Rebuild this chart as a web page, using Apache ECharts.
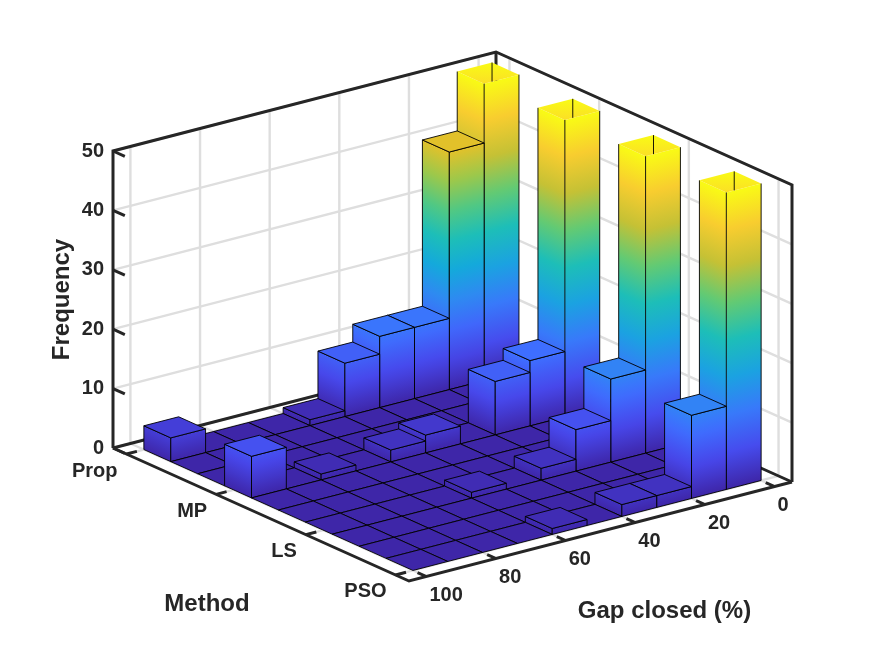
<!DOCTYPE html>
<html>
<head>
<meta charset="utf-8">
<script src="https://cdn.jsdelivr.net/npm/echarts@6/dist/echarts.min.js"></script>
</head>
<body style="margin:0;background:#fff">
<div id="main" style="width:875px;height:656px;"></div>
<script>
// ---- data ----
var methods = ['Prop', 'MP', 'LS', 'PSO'];
var methodRow = [0, 3, 6, 9];            // hist3 row that holds each method
var gapTicks = [0, 20, 40, 60, 80, 100];
var freqTicks = [0, 10, 20, 30, 40, 50];
// frequency per gap-closed bin: 0-10, 10-20, ..., 90-100
// first bin runs past the top of the axes (>50), its real height is a guess
var propFreq = [72, 40, 12, 12, 9, 1, 0, 0, 0, 4];
var mpFreq   = [117, 11, 9, 0, 3, 2, 0, 1, 0, 7];
var lsFreq   = [126, 14, 7, 2, 0, 1, 0, 0, 0, 0];
var psoFreq  = [131, 14, 2, 2, 0, 1, 0, 0, 0, 0];
var methodFreq = [propFreq, mpFreq, lsFreq, psoFreq];
var zMax = 50;

// ---- 3d box -> plane (orthographic, fitted to the figure) ----
var vLim = [-0.5, 10.5];   // method direction, in hist3 rows
var uLim = [105, -5];      // gap closed direction
var view = { ox: 113, oy: 448, mx: 296, my: 133, gx: 383, gy: -99, zy: -297 };

function project(v, u, z) {
    var s = (v - vLim[0]) / (vLim[1] - vLim[0]);
    var t = (u - uLim[0]) / (uLim[1] - uLim[0]);
    var h = z / zMax;
    return [view.ox + s * view.mx + t * view.gx, view.oy + s * view.my + t * view.gy + h * view.zy];
}
function methodV(i) { return i * 10 / 3; }

// parula
var parulaStops = [[62,38,168],[71,71,235],[62,111,255],[39,150,235],[8,181,208],
                   [49,198,159],[129,204,89],[220,189,41],[252,207,48],[249,251,21]];
function parula(x) {
    x = Math.max(0, Math.min(1, x));
    var p = x * (parulaStops.length - 1), i = Math.min(Math.floor(p), parulaStops.length - 2), f = p - i;
    var a = parulaStops[i], b = parulaStops[i + 1];
    return 'rgb(' + [0, 1, 2].map(function (k) { return Math.round(a[k] + (b[k] - a[k]) * f); }).join(',') + ')';
}

// colour along z on a vertical face; p0 bottom corner, p1 next bottom corner, pUp p0 raised to h
function faceFill(p0, p1, pUp, h) {
    var ex = p1[0] - p0[0], ey = p1[1] - p0[1], len = Math.sqrt(ex * ex + ey * ey);
    var nx = -ey / len, ny = ex / len;
    var k = nx * (pUp[0] - p0[0]) + ny * (pUp[1] - p0[1]);
    var stops = [];
    for (var i = 0; i <= 8; i++) stops.push({ offset: i / 8, color: parula(i / 8 * h / zMax) });
    return { type: 'linear', x: p0[0], y: p0[1], x2: p0[0] + nx * k, y2: p0[1] + ny * k, colorStops: stops, global: true };
}

var edge = '#000';
function poly(pts, fill, stroke) {
    return { type: 'polygon', shape: { points: pts },
             style: { fill: fill, stroke: stroke ? edge : null, lineWidth: 0.9 } };
}
function pline(pts, color, w) {
    return { type: 'polyline', shape: { points: pts }, style: { fill: null, stroke: color, lineWidth: w } };
}

// ---- cells, far to near ----
var cells = [];
for (var r = 0; r < 10; r++) {
    var mi = methodRow.indexOf(r);
    for (var c = 0; c < 10; c++) {
        cells.push([r, c, mi >= 0 ? methodFreq[mi][c] : 0]);
    }
}
cells.sort(function (a, b) { return (a[0] + a[1]) - (b[0] + b[1]); });

function renderCell(params, api) {
    var r = api.value(0), c = api.value(1), f = api.value(2);
    var v0 = r, v1 = r + 1, u0 = c * 10, u1 = u0 + 10;
    var h = Math.min(f, zMax), cut = f > zMax;
    function P(v, u, z) { return api.coord(project(v, u, z)); }
    var kids = [];
    if (h === 0) {
        kids.push(poly([P(v0, u1, 0), P(v1, u1, 0), P(v1, u0, 0), P(v0, u0, 0)], parula(0), true));
        return { type: 'group', children: kids };
    }
    var left = [P(v0, u1, 0), P(v1, u1, 0), P(v1, u1, h), P(v0, u1, h)];
    var right = [P(v1, u1, 0), P(v1, u0, 0), P(v1, u0, h), P(v1, u1, h)];
    kids.push(poly(left, faceFill(left[0], left[1], left[3], h), !cut));
    kids.push(poly(right, faceFill(right[0], right[1], right[3], h), !cut));
    var top = [P(v0, u1, h), P(v1, u1, h), P(v1, u0, h), P(v0, u0, h)];
    if (!cut) {
        kids.push(poly(top, parula(h / zMax), true));
    } else {
        var back = top[3], front = top[1];
        kids.push(poly(top, { type: 'linear', x: 0, y: back[1], x2: 0, y2: front[1], global: true,
            colorStops: [{ offset: 0, color: parula(1) }, { offset: 1, color: parula(0.93) }] }, false));
        // inner back corner seen through the open top, down to the front rim
        var rim = back[0] >= front[0] ? top[2] : top[0];
        var t = (back[0] - front[0]) / (rim[0] - front[0]);
        var yHit = front[1] + t * (rim[1] - front[1]);
        kids.push(pline([back, [back[0], yHit]], edge, 0.9));
        kids.push(pline([left[3], left[0], left[1], left[2]], edge, 0.9));
        kids.push(pline([right[1], right[2]], edge, 0.9));
        kids.push(pline([right[0], right[1]], edge, 0.9));
    }
    return { type: 'group', children: kids };
}

var ink = '#262626';
var gridGray = '#dedede';
var tickFont = 'bold 20px "Liberation Sans", Arial, sans-serif';
var titleFont = 'bold 24px "Liberation Sans", Arial, sans-serif';

function renderBack(params, api) {
    function P(v, u, z) { return api.coord(project(v, u, z)); }
    var kids = [], vA = vLim[0], vB = vLim[1], uA = uLim[0], uB = uLim[1];
    gapTicks.forEach(function (u) {
        kids.push(pline([P(vA, u, 0), P(vA, u, zMax)], gridGray, 2.4));
        kids.push(pline([P(vA, u, 0), P(vB, u, 0)], gridGray, 2.4));
    });
    methods.forEach(function (m, i) {
        var v = methodV(i);
        kids.push(pline([P(v, uB, 0), P(v, uB, zMax)], gridGray, 2.4));
        kids.push(pline([P(v, uA, 0), P(v, uB, 0)], gridGray, 2.4));
    });
    freqTicks.forEach(function (z) {
        kids.push(pline([P(vA, uA, z), P(vA, uB, z), P(vB, uB, z)], gridGray, 2.4));
    });
    // back edges of the box
    kids.push(pline([P(vA, uA, 0), P(vA, uA, zMax), P(vA, uB, zMax), P(vB, uB, zMax), P(vB, uB, 0)], ink, 3));
    kids.push(pline([P(vA, uA, 0), P(vA, uB, 0), P(vB, uB, 0)], ink, 3));
    kids.push(pline([P(vA, uB, 0), P(vA, uB, zMax)], ink, 3));
    return { type: 'group', children: kids };
}

function txt(p, s, font, align, vAlign, rot) {
    return { type: 'text', x: p[0], y: p[1], rotation: rot || 0,
             style: { text: s, font: font, fill: ink, align: align, verticalAlign: vAlign } };
}

function renderFront(params, api) {
    function P(v, u, z) { return api.coord(project(v, u, z)); }
    var kids = [], vA = vLim[0], vB = vLim[1], uA = uLim[0], uB = uLim[1];
    kids.push(pline([P(vA, uA, 0), P(vB, uA, 0), P(vB, uB, 0)], ink, 3));
    freqTicks.forEach(function (z) {
        var p = P(vA, uA, z);
        kids.push(pline([p, P(vA + 0.44, uA, z)], ink, 3));
        kids.push(txt([p[0] - 9, p[1]], String(z), tickFont, 'right', 'middle'));
    });
    methods.forEach(function (m, i) {
        var p = P(methodV(i), uA, 0);
        kids.push(pline([p, P(methodV(i), uA - 3, 0)], ink, 3));
        kids.push(txt([p[0] - 9, p[1] + 17], m, tickFont, 'right', 'middle'));
    });
    gapTicks.forEach(function (u) {
        var p = P(vB, u, 0);
        kids.push(pline([p, P(vB - 0.33, u, 0)], ink, 3));
        kids.push(txt([p[0] + 3, p[1] + 19], String(u), tickFont, 'left', 'middle'));
    });
    var zMid = P(vA, uA, zMax / 2), mMid = P((vA + vB) / 2, uA, 0), gMid = P(vB, (uA + uB) / 2, 0);
    kids.push(txt([zMid[0] - 51, zMid[1]], 'Frequency', titleFont, 'center', 'middle', Math.PI / 2));
    kids.push(txt([mMid[0] - 54, mMid[1] + 90], 'Method', titleFont, 'center', 'middle'));
    kids.push(txt([gMid[0] + 64, gMid[1] + 80], 'Gap closed (%)', titleFont, 'center', 'middle'));
    return { type: 'group', children: kids };
}

var myChart = echarts.init(document.getElementById('main'));
myChart.setOption({
    animation: false,
    grid: { left: 0, right: 0, top: 0, bottom: 0 },
    xAxis: { type: 'value', min: 0, max: 875, show: false },
    yAxis: { type: 'value', min: 0, max: 656, inverse: true, show: false },
    series: [
        { type: 'custom', name: 'frame', clip: false, z: 1, data: [[0, 0]], renderItem: renderBack },
        { type: 'custom', name: 'Frequency', clip: false, z: 2, data: cells, renderItem: renderCell },
        { type: 'custom', name: 'axes', clip: false, z: 3, data: [[0, 0]], renderItem: renderFront }
    ]
});
</script>
</body>
</html>
